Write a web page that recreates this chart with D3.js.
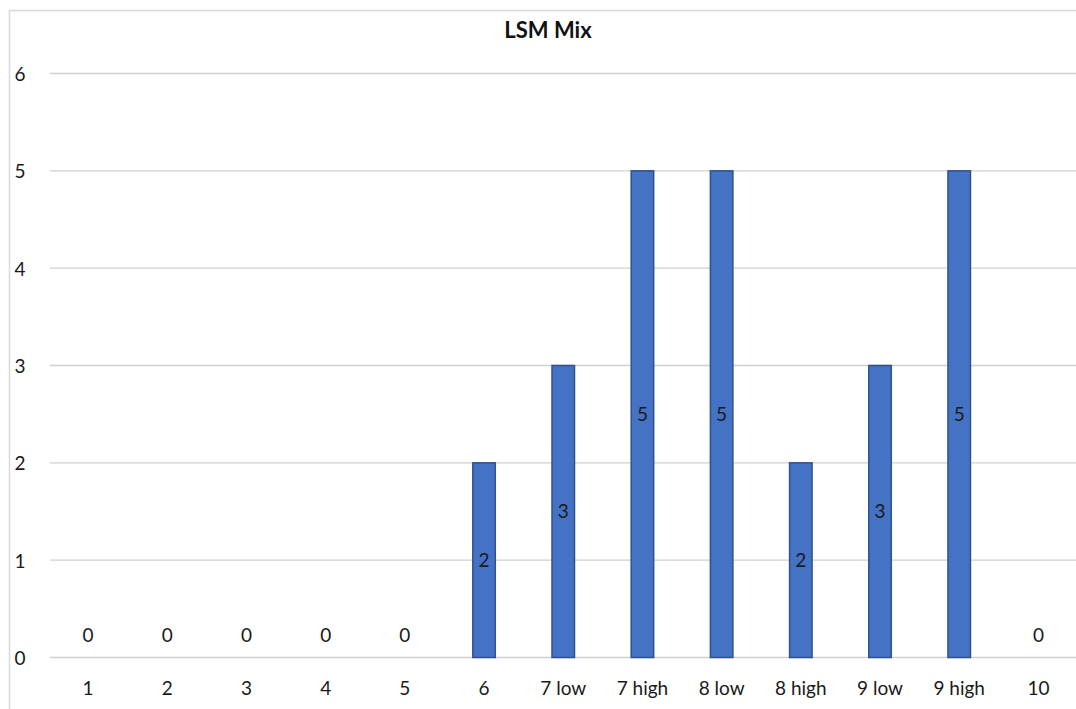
<!DOCTYPE html>
<html><head><meta charset="utf-8">
<script src="https://cdn.jsdelivr.net/npm/d3@7"></script>
<style>body{margin:0;background:#fff}svg{display:block}text{font-family:Lato,"Open Sans",sans-serif}</style>
</head><body>
<script>
const categories = ["1","2","3","4","5","6","7 low","7 high","8 low","8 high","9 low","9 high","10"];
const values = [0,0,0,0,0,2,3,5,5,2,3,5,0];
const yTicks = [0,1,2,3,4,5,6];
const title = "LSM Mix";

const W = 1076, H = 709;
const FS = 19;
const svg = d3.select("body").append("svg").attr("width", W).attr("height", H);
svg.append("rect").attr("x", 9.5).attr("y", 10.5).attr("width", W).attr("height", H).attr("fill", "#fff").attr("stroke", "#d9d9d9").attr("stroke-width", 1.5);

const x = d3.scaleBand().domain(categories).range([48.5, 1078]).paddingInner(0).paddingOuter(0);
const y = d3.scaleLinear().domain([0, 6]).range([657.5, 73.5]);

// gridlines
svg.append("g").selectAll("line").data(yTicks).join("line")
  .attr("x1", 50).attr("x2", W).attr("y1", d => y(d)).attr("y2", d => y(d))
  .attr("stroke", "#d0d0d0").attr("stroke-width", 1.3);

// y labels
const yAxis = d3.axisLeft(y).tickValues(yTicks).tickFormat(d3.format("d")).tickSize(0).tickPadding(0);
const gy = svg.append("g").attr("transform", "translate(20,0)").call(yAxis);
gy.select(".domain").remove();
gy.selectAll("text").attr("font-size", FS).attr("fill", "#1a1a1a").attr("text-anchor", "middle").attr("dy", "0.36em").attr("font-family", "Lato,'Open Sans',sans-serif");

// x labels
const xAxis = d3.axisBottom(x).tickSize(0).tickPadding(0);
const gx = svg.append("g").attr("transform", "translate(0,695)").call(xAxis);
gx.select(".domain").remove();
gx.selectAll("text").attr("font-size", FS).attr("fill", "#1a1a1a").attr("dy", "0").attr("font-family", "Lato,'Open Sans',sans-serif");

const bw = 24;
const data = categories.map((c, i) => ({c, v: values[i]}));
svg.append("g").selectAll("rect").data(data.filter(d => d.v > 0)).join("rect")
  .attr("x", d => x(d.c) + x.bandwidth() / 2 - bw / 2 + 0.75)
  .attr("width", bw - 1.5)
  .attr("y", d => y(d.v))
  .attr("height", d => y(0) - y(d.v))
  .attr("fill", "#4472c4").attr("stroke", "#2f528f").attr("stroke-width", 1.5);

// data labels
svg.append("g").selectAll("text").data(data).join("text")
  .attr("x", d => x(d.c) + x.bandwidth() / 2)
  .attr("y", d => d.v > 0 ? y(d.v / 2) : 642)
  .attr("dy", d => d.v > 0 ? "0.36em" : "0")
  .attr("text-anchor", "middle").attr("font-size", FS).attr("fill", "#1a1a1a")
  .text(d => d.v);

svg.append("text").attr("x", 548).attr("y", 38).attr("text-anchor", "middle")
  .attr("font-size", 22).attr("font-weight", "bold").attr("fill", "#111").text(title);
</script>
</body></html>
